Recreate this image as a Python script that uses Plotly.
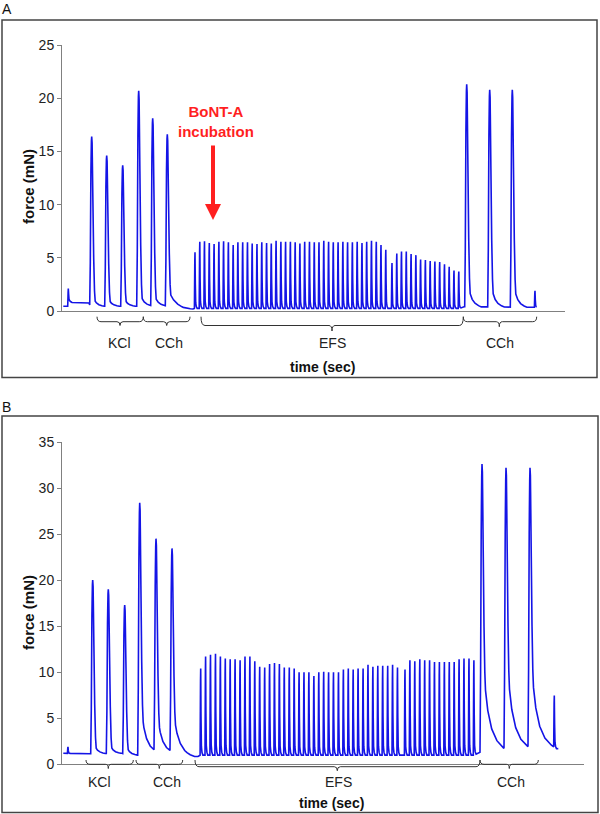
import numpy as np
import plotly.graph_objects as go

W, H = 600, 814
BLUE = "#1414E6"
RED = "#FF1F1F"
GREY = "#808080"
FONT = "Arial, Liberation Sans, sans-serif"

# ---- panel A (time in arbitrary units, force in mN) ----
A_BASE_T = [1.3, 6.0, 6.6, 10, 27, 28.2, 106, 120, 131, 133, 398, 402, 474.7]
A_BASE_F = [0.45, 0.45, 1.0, 0.8, 0.75, 0.45, 0.45, 0.15, 0.15, 0.25, 0.25, 0.4, 0.35]

A_BIG_T = [29.7, 44.7, 60.7, 76.7, 90.7, 105.3, 404.7, 427.7, 450.3]
A_BIG_PEAK = [16.4, 14.6, 13.7, 20.7, 18.1, 16.6, 21.3, 20.8, 20.8]
A_BIG_TAIL = [1.2, 1.1, 1.1, 1.6, 1.5, 1.6, 2.8, 2.8, 2.8]
A_BIG_DECAY = [12, 12, 12, 14, 14, 28, 14, 14, 14]

A_SMALL_T = [6.3, 473.0]
A_SMALL_PEAK = [2.1, 1.9]

A_EFS_T = [133.0, 137.8, 142.5, 147.3, 152.1, 156.9, 161.6, 166.4, 171.2, 175.9,
           180.7, 185.5, 190.2, 195.0, 199.8, 204.6, 209.3, 214.1, 218.9, 223.6,
           228.4, 233.2, 237.9, 242.7, 247.5, 252.3, 257.0, 261.8, 266.6, 271.3,
           276.1, 280.9, 285.6, 290.4, 295.2, 300.0, 304.7, 309.5, 314.3, 319.0,
           323.8, 330.0, 334.8, 339.5, 344.3, 349.1, 353.9, 358.6, 363.4, 368.2,
           372.9, 377.7, 382.5, 387.2, 392.0, 396.8]
A_EFS_F = [5.5, 6.5, 6.55, 6.4, 6.3, 6.5, 6.55, 6.45, 6.2, 6.45,
           6.45, 6.45, 6.35, 6.3, 6.45, 6.4, 6.35, 6.6, 6.5, 6.5,
           6.5, 6.45, 6.35, 6.5, 6.5, 6.45, 6.45, 6.6, 6.5, 6.45,
           6.45, 6.5, 6.45, 6.45, 6.5, 6.4, 6.5, 6.6, 6.5, 6.2,
           5.75, 4.5, 5.4, 5.6, 5.6, 5.35, 5.25, 4.85, 4.8, 4.7,
           4.65, 4.6, 4.4, 4.15, 3.8, 3.7]

# ---- panel B ----
B_BASE_T = [1.3, 28, 60, 64, 76, 78, 112, 125, 136, 138.5, 412, 418, 444, 468, 496.3]
B_BASE_F = [1.2, 1.15, 1.2, 1.0, 1.0, 1.3, 1.2, 0.83, 0.85, 1.0, 1.0, 1.3, 1.4, 1.6, 1.7]

B_BIG_T = [30.7, 46.3, 62.7, 77.7, 94.0, 110.0, 420.0, 444.0, 468.0]
B_BIG_PEAK = [20.0, 19.0, 17.3, 28.4, 24.35, 23.3, 32.6, 32.0, 32.0]
B_BIG_TAIL = [1.5, 1.5, 1.5, 6.0, 5.0, 5.0, 10.0, 10.0, 10.0]
B_BIG_DECAY = [12, 12, 12, 18, 18, 22, 26, 26, 26]

B_SMALL_T = [6.0, 492.3]
B_SMALL_PEAK = [1.9, 7.3]

B_EFS_T = [138.7, 143.6, 148.5, 153.5, 158.4, 163.3, 168.2, 173.1, 178.1, 183.0,
           187.9, 192.8, 197.7, 202.7, 207.6, 212.5, 217.4, 222.3, 227.3, 232.2,
           237.1, 242.0, 246.9, 251.9, 256.8, 261.7, 266.6, 271.5, 276.5, 281.4,
           286.3, 291.2, 296.1, 301.1, 306.0, 310.9, 315.8, 320.7, 325.7, 330.6,
           335.5, 343.0, 347.9, 352.8, 357.8, 362.7, 367.6, 372.5, 377.4, 382.4,
           387.3, 392.2, 397.1, 402.0, 407.0, 411.9]
B_EFS_F = [10.4, 11.7, 11.9, 12.0, 11.7, 11.5, 11.4, 11.4, 11.3, 11.7,
           11.7, 11.2, 10.6, 10.5, 10.9, 11.0, 10.9, 10.5, 10.5, 10.4,
           10.0, 10.0, 10.0, 9.6, 10.0, 10.05, 10.0, 10.0, 10.0, 10.3,
           10.4, 10.3, 10.4, 10.4, 10.8, 10.6, 10.7, 10.7, 10.7, 10.8,
           10.5, 10.3, 11.3, 11.2, 11.4, 11.3, 11.3, 11.1, 11.1, 11.1,
           11.1, 11.1, 11.4, 11.5, 11.5, 11.3]

# contraction shapes (offset from peak, fraction of amplitude)
FAST_DT = np.array([-2.0, -1.4, -0.8, -0.3, 0, 0.4, 1.2, 2.0, 2.8, 3.5])
FAST_FR = np.array([0, 0.25, 0.8, 0.98, 1, 0.96, 0.6, 0.25, 0.06, 0])
SLOW_U = np.array([0, 0.1, 0.2, 0.35, 0.55, 0.8, 1.0])
SLOW_FR = np.array([1, 0.7, 0.45, 0.25, 0.12, 0.04, 0])
TW_DT = np.array([-0.6, -0.2, 0, 0.3, 0.7, 1.3, 2.2])
TW_FR = np.array([0, 0.85, 1, 0.45, 0.1, 0.03, 0])


def trace_xy(base_t, base_f, big_t, big_p, big_tail, big_d, tw_t, tw_p):
    slow = []
    for t0, d in zip(big_t, big_d):
        slow.append(t0 + np.concatenate([[-2.0, -0.6, 0], SLOW_U * d + 0.6]))
    pts = list(base_t)
    for t0 in big_t:
        pts += list(t0 + FAST_DT)
    for s in slow:
        pts += list(s)
    for t0 in tw_t:
        pts += list(t0 + TW_DT)
    t = np.unique(np.clip(pts, base_t[0], base_t[-1]))
    f = np.interp(t, base_t, base_f)
    sfr = np.concatenate([[0, 0.8, 1], SLOW_FR])
    for t0, p, tl, s in zip(big_t, big_p, big_tail, slow):
        b = np.interp(t0, base_t, base_f)
        f += (p - b - tl) * np.interp(t, t0 + FAST_DT, FAST_FR, left=0, right=0)
        f += tl * np.interp(t, s, sfr, left=0, right=0)
    for t0, p in zip(tw_t, tw_p):
        b = np.interp(t0, base_t, base_f)
        f += (p - b) * np.interp(t, t0 + TW_DT, TW_FR, left=0, right=0)
    return t, f


ta, fa = trace_xy(A_BASE_T, A_BASE_F, A_BIG_T, A_BIG_PEAK, A_BIG_TAIL, A_BIG_DECAY,
                  A_EFS_T + A_SMALL_T, A_EFS_F + A_SMALL_PEAK)
tb, fb = trace_xy(B_BASE_T, B_BASE_F, B_BIG_T, B_BIG_PEAK, B_BIG_TAIL, B_BIG_DECAY,
                  B_EFS_T + B_SMALL_T, B_EFS_F + B_SMALL_PEAK)


def py(p):
    return 1 - p / H


fig = go.Figure()
fig.add_trace(go.Scatter(x=ta, y=fa, mode="lines", line=dict(color=BLUE, width=1.6, simplify=False),
                         xaxis="x", yaxis="y", hoverinfo="skip"))
fig.add_trace(go.Scatter(x=tb, y=fb, mode="lines", line=dict(color=BLUE, width=1.6, simplify=False),
                         xaxis="x2", yaxis="y2", hoverinfo="skip"))

xcommon = dict(showline=True, linecolor=GREY, linewidth=1, ticks="", showticklabels=False,
               showgrid=False, zeroline=False, fixedrange=True, automargin=False)
ycommon = dict(showline=True, linecolor=GREY, linewidth=1, ticks="outside", ticklen=4,
               tickcolor=GREY, dtick=5, showgrid=False, zeroline=False, automargin=False,
               fixedrange=True, tickfont=dict(family=FONT, size=14, color="#222"))

fig.update_layout(
    width=W, height=H, margin=dict(l=0, r=0, t=0, b=0, pad=0),
    paper_bgcolor="white", plot_bgcolor="white", showlegend=False,
    xaxis=dict(domain=[62 / W, 565 / W], range=[0, 503], anchor="y", **xcommon),
    yaxis=dict(domain=[py(311), py(45)], range=[0, 25], anchor="x", **ycommon),
    xaxis2=dict(domain=[62 / W, 584 / W], range=[0, 522], anchor="y2", **xcommon),
    yaxis2=dict(domain=[py(764.3), py(442)], range=[0, 35], anchor="x2", **ycommon),
)

# brackets: (start, end, tip) in time units, (end, flat, tip) in pixel rows
A_BR = [(35, 81.3, 58), (81.3, 128, 104.7), (139, 401.3, 270), (401.3, 474.7, 437.3)]
A_BR_Y = [(316.7, 321.7, 325.5), (316.7, 321.7, 325.5), (316.7, 325.5, 331), (316.7, 321.7, 326.7)]
B_BR = [(24, 71.3, 46.3), (74, 120.7, 97.3), (133, 418, 275.3), (418, 476.3, 447.3)]
B_BR_Y = [(760, 764.3, 768.5), (760, 764.3, 768.5), (760, 766.7, 770.7), (760, 764.3, 768.5)]


def brace(x0, x1, xt, ye, yh, yt, r=4, rt=3):
    ye, yh, yt = py(ye), py(yh), py(yt)
    return (f"M {x0},{ye} Q {x0},{yh} {x0 + r},{yh} L {xt - rt},{yh} "
            f"Q {xt},{yh} {xt},{yt} Q {xt},{yh} {xt + rt},{yh} "
            f"L {x1 - r},{yh} Q {x1},{yh} {x1},{ye}")


shapes = []
for xr, brs, ys in (("x", A_BR, A_BR_Y), ("x2", B_BR, B_BR_Y)):
    for (x0, x1, xt), (ye, yh, yt) in zip(brs, ys):
        shapes.append(dict(type="path", xref=xr, yref="paper", path=brace(x0, x1, xt, ye, yh, yt),
                           line=dict(color="#333", width=1)))
# panel frames
shapes.append(dict(type="rect", xref="paper", yref="paper", x0=2 / W, x1=597 / W,
                   y0=py(377.5), y1=py(20), line=dict(color="#444", width=1.5)))
shapes.append(dict(type="rect", xref="paper", yref="paper", x0=2 / W, x1=598 / W,
                   y0=py(812.5), y1=py(416), line=dict(color="#444", width=1.5)))
fig.update_layout(shapes=shapes)

ann = []
A_LABELS = ["KCl", "CCh", "EFS", "CCh"]
A_LABEL_X = [57.5, 107, 270.5, 438]
B_LABELS = ["KCl", "CCh", "EFS", "CCh"]
B_LABEL_X = [37, 104.7, 276, 448.7]
mid = dict(xanchor="center", yanchor="middle", showarrow=False)
for txt, x in zip(A_LABELS, A_LABEL_X):
    ann.append(dict(text=txt, x=x, y=py(343), xref="x", yref="paper",
                    font=dict(family=FONT, size=14, color="#222"), **mid))
for txt, x in zip(B_LABELS, B_LABEL_X):
    ann.append(dict(text=txt, x=x, y=py(782), xref="x2", yref="paper",
                    font=dict(family=FONT, size=14, color="#222"), **mid))
for x, y, xr in ((260, 366.7, "x"), (269.7, 802.7, "x2")):
    ann.append(dict(text="<b>time (sec)</b>", x=x, y=py(y), xref=xr, yref="paper",
                    font=dict(family=FONT, size=14, color="#111"), **mid))
for y in (187, 613):
    ann.append(dict(text="<b>force (mN)</b>", x=28 / W, y=py(y), xref="paper", yref="paper",
                    textangle=-90, font=dict(family=FONT, size=15, color="#111"), **mid))
for txt, y in (("A", 9.5), ("B", 406.7)):
    ann.append(dict(text=txt, x=6.5 / W, y=py(y), xref="paper", yref="paper",
                    font=dict(family=FONT, size=14, color="#111"), **mid))
ann.append(dict(text="<b>BoNT-A<br>incubation</b>", x=154, y=py(121), xref="x", yref="paper",
                font=dict(family=FONT, size=15, color=RED), **mid))
ann.append(dict(text="", x=151, y=8.55, xref="x", yref="y", ax=151, ay=15.7, axref="x", ayref="y",
                showarrow=True, arrowhead=2, arrowsize=0.8, arrowwidth=4, arrowcolor=RED))
fig.update_layout(annotations=ann)

fig.write_html("out.html", config={"displayModeBar": False},
               post_script="document.body.style.margin='0';")
